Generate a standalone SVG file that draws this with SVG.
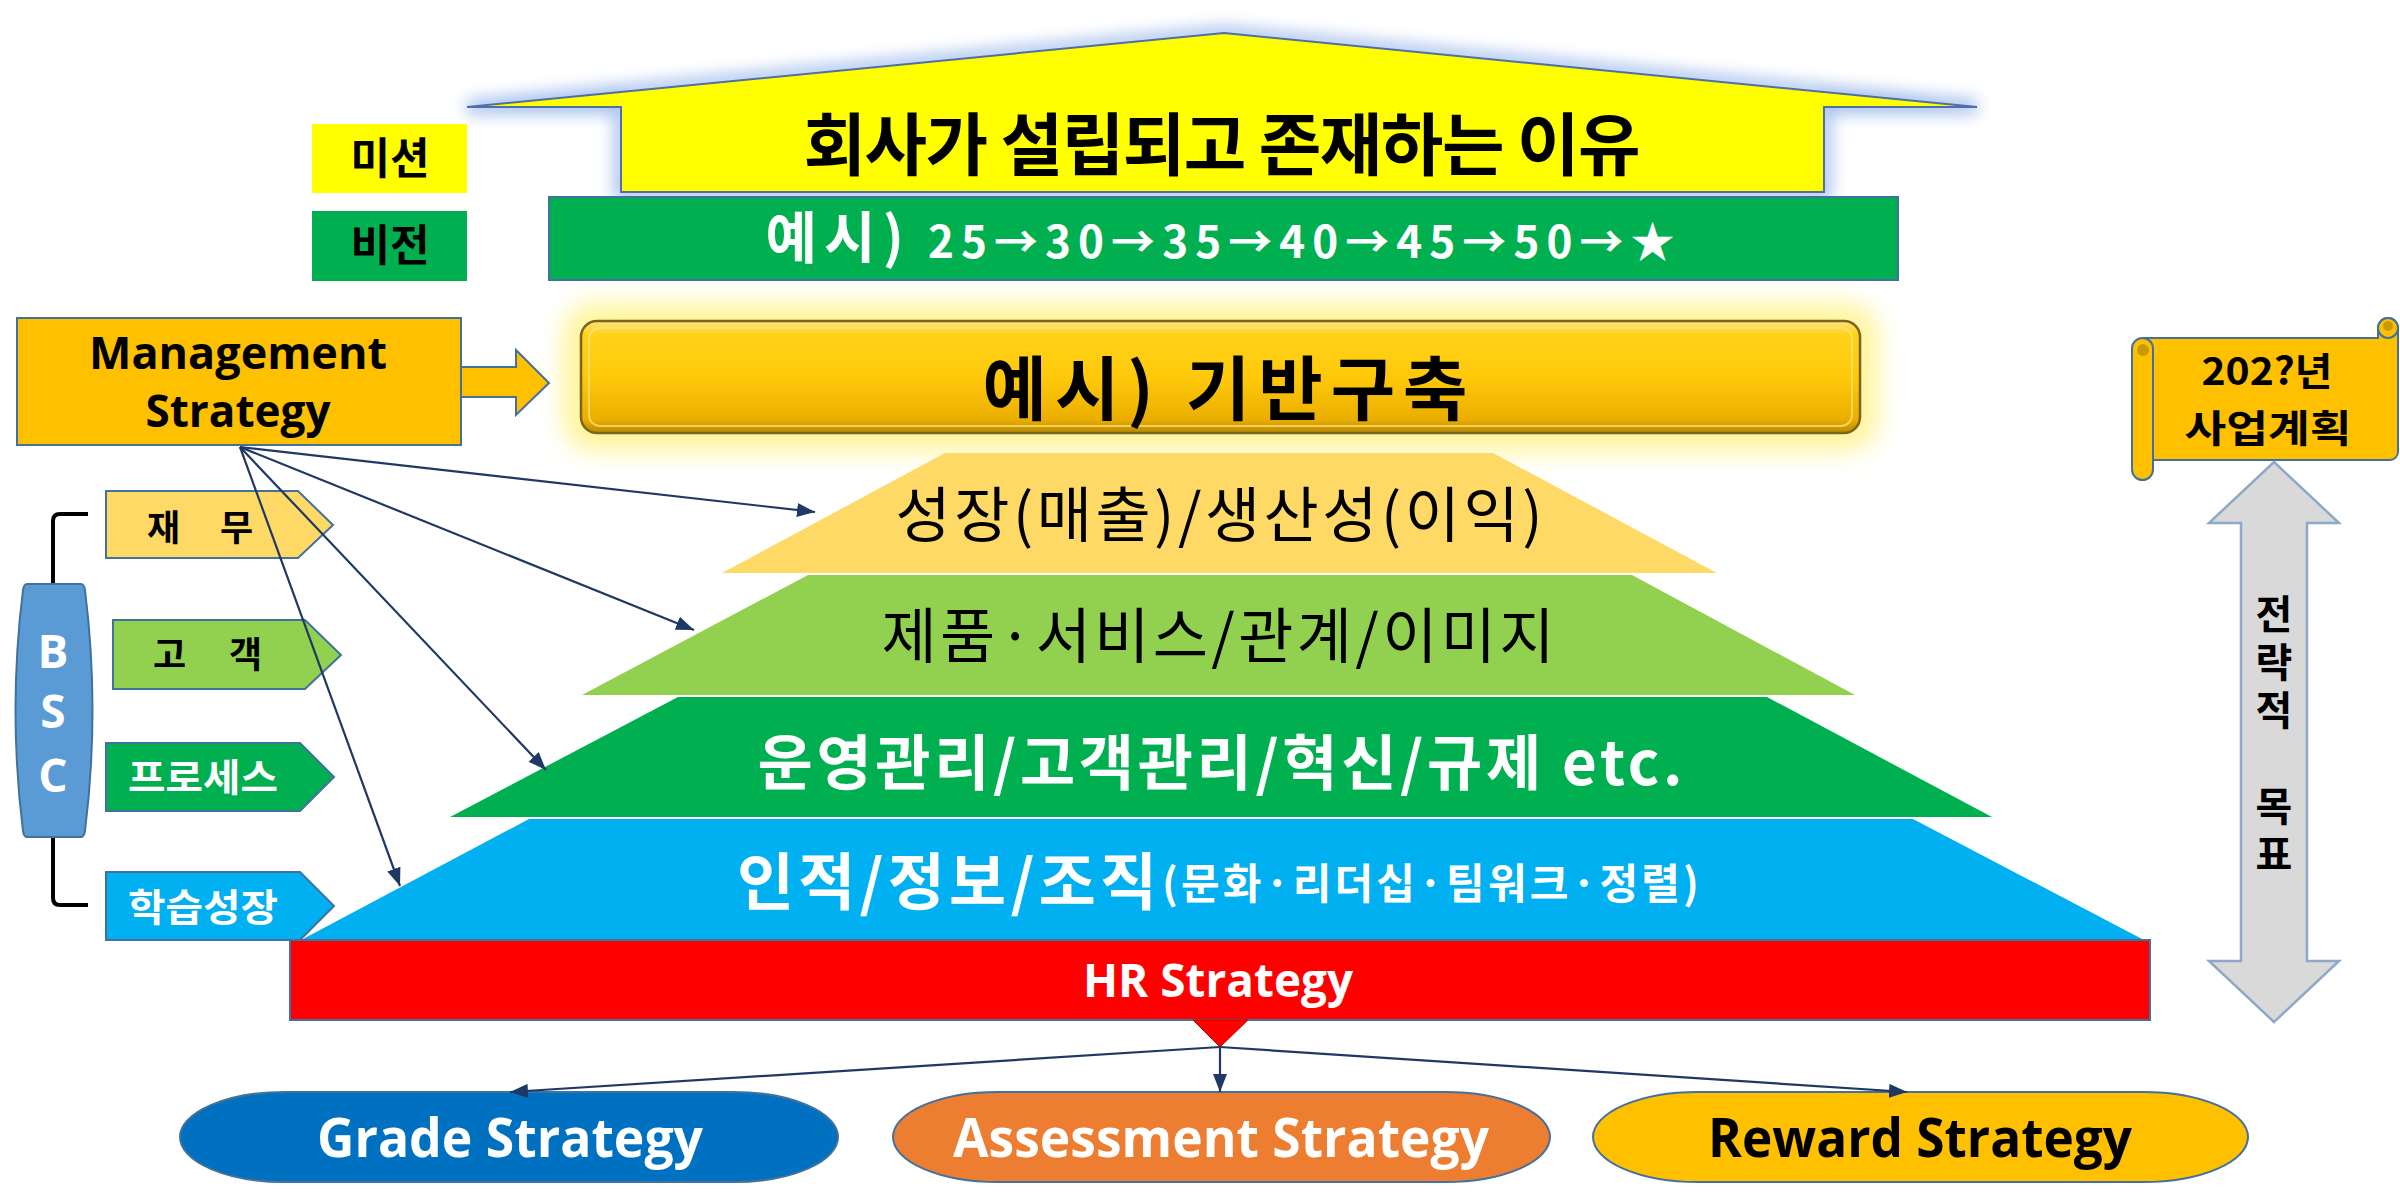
<svg xmlns="http://www.w3.org/2000/svg" width="2400" height="1200" viewBox="0 0 2400 1200">
  <style>
    .ko { font-family: "Noto Sans CJK KR", sans-serif; }
    .en { font-family: "Open Sans", "Noto Sans CJK KR", sans-serif; }
    .b { font-weight: 700; }
    .mid { text-anchor: middle; }
    .edge { stroke: #41719C; stroke-width: 2; }
    .conn { fill: none; stroke: #1F3864; stroke-width: 2.2; }
    .wht { fill: #FFFFFF; }
    .blk { fill: #000000; }
    .vert { writing-mode: vertical-rl; text-orientation: upright; letter-spacing: 8px; }
  </style>
  <defs>
    <marker id="arrowhead" viewBox="0 0 18 14" refX="18" refY="7" markerWidth="18" markerHeight="14" markerUnits="userSpaceOnUse" orient="auto">
      <path d="M0,0 L18,7 L0,14 Z" fill="#1F3864"/>
    </marker>
    <filter id="soft" x="-20%" y="-60%" width="140%" height="220%">
      <feGaussianBlur stdDeviation="8"/>
    </filter>
    <filter id="softWide" x="-20%" y="-80%" width="140%" height="260%">
      <feGaussianBlur stdDeviation="12"/>
    </filter>
    <linearGradient id="goldBar" x1="0" y1="0" x2="0" y2="1">
      <stop offset="0" stop-color="#FFE27A"/>
      <stop offset="0.12" stop-color="#FFD21A"/>
      <stop offset="0.5" stop-color="#FFC90A"/>
      <stop offset="0.88" stop-color="#EBAE00"/>
      <stop offset="1" stop-color="#B98A00"/>
    </linearGradient>
  </defs>

  <rect width="2400" height="1200" fill="#FFFFFF"/>

  <!-- Mission: house shape -->
  <g id="mission">
    <polygon points="467,107 1224,33 1977,107 1824,107 1824,192 621,192 621,107" fill="none" stroke="#5B8BE0" stroke-width="14" opacity="0.55" filter="url(#soft)"/>
    <polygon points="467,107 1224,33 1977,107 1824,107 1824,192 621,192 621,107" fill="#FFFF00" stroke="#4F6FA8" stroke-width="2"/>
    <text class="ko b mid blk" x="1222" y="170" font-size="68" textLength="837" lengthAdjust="spacing">회사가 설립되고 존재하는 이유</text>
  </g>

  <g id="label-mission">
    <rect x="312" y="124" width="155" height="69" fill="#FFFF00"/>
    <text class="ko b mid blk" x="390" y="174" font-size="43">미션</text>
  </g>

  <g id="label-vision">
    <rect x="312" y="211" width="155" height="70" fill="#00B050"/>
    <text class="ko b mid blk" x="390" y="261" font-size="43">비전</text>
  </g>

  <!-- Vision bar -->
  <g id="vision">
    <rect x="549" y="197" width="1349" height="83" fill="#00B050" class="edge"/>
    <text class="ko b mid wht" x="1220" y="258" font-size="44" textLength="909" lengthAdjust="spacing"><tspan font-size="56">예시)</tspan> 25→30→35→40→45→50→★</text>
  </g>

  <!-- Foundation bar -->
  <g id="foundation">
    <rect x="571" y="311" width="1299" height="132" rx="24" fill="#FFF27A" stroke="#FFF176" stroke-width="16" opacity="0.75" filter="url(#softWide)"/>
    <rect x="581" y="321" width="1279" height="112" rx="16" fill="url(#goldBar)" stroke="#7A6420" stroke-width="2.5"/>
    <rect x="589" y="328" width="1263" height="98" rx="11" fill="none" stroke="#FFE680" stroke-width="2" opacity="0.7"/>
    <text class="ko b mid blk" x="1225" y="415" font-size="70" textLength="485" lengthAdjust="spacing">예시) 기반구축</text>
  </g>

  <!-- Management Strategy box with block arrow -->
  <g id="management">
    <rect x="17" y="318" width="444" height="127" fill="#FFC000" class="edge"/>
    <text class="en b mid blk" x="238" y="369" font-size="44" textLength="298" lengthAdjust="spacingAndGlyphs">Management</text>
    <text class="en b mid blk" x="238" y="427" font-size="44" textLength="185" lengthAdjust="spacingAndGlyphs">Strategy</text>
    <polygon points="461,367 516,367 516,350 549,383 516,415 516,397 461,397" fill="#FFC000" class="edge"/>
  </g>

  <!-- Strategy pyramid -->
  <g id="layer-growth">
    <polygon points="945,453 1493,453 1717,573 722,573" fill="#FFD966"/>
    <text class="ko mid blk" x="1219" y="537" font-size="60" textLength="647" lengthAdjust="spacing">성장(매출)/생산성(이익)</text>
  </g>
  <g id="layer-customer">
    <polygon points="808,575 1632,575 1855,695 582,695" fill="#92D050"/>
    <text class="ko mid blk" x="1218" y="658" font-size="60" textLength="673" lengthAdjust="spacing">제품·서비스/관계/이미지</text>
  </g>
  <g id="layer-process">
    <polygon points="678,697 1767,697 1992,817 450,817" fill="#00B050"/>
    <text class="ko b mid wht" x="1220" y="785" font-size="60" textLength="925" lengthAdjust="spacing">운영관리/고객관리/혁신/규제 etc.</text>
  </g>
  <g id="layer-learning">
    <polygon points="529,819 1913,819 2142,939 303,939" fill="#00B0F0"/>
    <text class="ko b wht" x="737" y="905" font-size="62" textLength="420" lengthAdjust="spacing">인적/정보/조직</text>
    <text class="ko b wht" x="1162" y="899" font-size="42" textLength="537" lengthAdjust="spacing">(문화·리더십·팀워크·정렬)</text>
  </g>

  <!-- HR Strategy bar -->
  <g id="hr-strategy">
    <rect x="290" y="940" width="1860" height="80" fill="#FF0000" class="edge"/>
    <polygon points="1193,1020 1248,1020 1220,1047" fill="#FF0000" stroke="#C00000" stroke-width="1"/>
    <text class="en b mid wht" x="1218" y="997" font-size="46" textLength="270" lengthAdjust="spacingAndGlyphs">HR Strategy</text>
  </g>

  <!-- BSC perspectives -->
  <g id="bsc">
    <path d="M88,514 H60 Q53,514 53,521 V590 M53,832 V898 Q53,905 60,905 H88" fill="none" stroke="#000000" stroke-width="4"/>
    <path d="M27,584 H81 Q84,584 85,590 Q100,710 85,831 Q84,837 81,837 H27 Q24,837 23,831 Q8,710 23,590 Q24,584 27,584 Z" fill="#5B9BD5" stroke="#41719C" stroke-width="2"/>
    <text class="en b mid wht" x="53" y="668" font-size="46">B</text>
    <text class="en b mid wht" x="53" y="728" font-size="46">S</text>
    <text class="en b mid wht" x="53" y="792" font-size="46">C</text>
  </g>
  <g id="bsc-finance">
    <polygon points="106,491 298,491 333,525 298,558 106,558" fill="#FFD966" class="edge"/>
    <text class="ko b blk" x="147" y="541" font-size="36" textLength="106" lengthAdjust="spacing">재 무</text>
  </g>
  <g id="bsc-customer">
    <polygon points="113,620 305,620 341,655 305,689 113,689" fill="#92D050" class="edge"/>
    <text class="ko b blk" x="153" y="668" font-size="36" textLength="109" lengthAdjust="spacing">고 객</text>
  </g>
  <g id="bsc-process">
    <polygon points="106,743 300,743 334,777 300,811 106,811" fill="#00B050" class="edge"/>
    <text class="ko b wht" x="128" y="791" font-size="38" textLength="150" lengthAdjust="spacingAndGlyphs">프로세스</text>
  </g>
  <g id="bsc-learning">
    <polygon points="106,872 300,872 334,906 300,940 106,940" fill="#00B0F0" class="edge"/>
    <text class="ko b wht" x="128" y="921" font-size="38" textLength="150" lengthAdjust="spacingAndGlyphs">학습성장</text>
  </g>

  <!-- Annual business plan scroll -->
  <g id="business-plan">
    <path d="M2143,338 H2378 V328 A10,10 0 0 1 2398,328 V452 A8,8 0 0 1 2390,460 H2153 Z" fill="#FFC000" class="edge"/>
    <circle cx="2388" cy="328" r="10" fill="#FFC000" class="edge"/>
    <circle cx="2388" cy="326" r="5" fill="#C99A00"/>
    <rect x="2132" y="338" width="21" height="142" rx="10.5" fill="#FFC000" class="edge"/>
    <circle cx="2143" cy="350" r="6" fill="#C99A00"/>
    <text class="ko b mid blk" x="2267" y="385" font-size="38" textLength="131" lengthAdjust="spacingAndGlyphs">202?년</text>
    <text class="ko b mid blk" x="2268" y="442" font-size="38" textLength="167" lengthAdjust="spacingAndGlyphs">사업계획</text>
  </g>

  <!-- Strategic goal double arrow -->
  <g id="strategic-goal">
    <polygon points="2274,462 2339,523 2307,523 2307,961 2339,961 2274,1022 2209,961 2241,961 2241,523 2209,523" fill="#D9D9D9" stroke="#8EA9C8" stroke-width="2.5"/>
    <text class="ko b blk vert" x="2274" y="594" font-size="40">전략적　목표</text>
  </g>

  <!-- HR sub-strategies -->
  <g id="grade-strategy">
    <rect x="180" y="1092" width="658" height="90" rx="105" ry="45" fill="#0070C0" class="edge"/>
    <text class="en b mid wht" x="510" y="1157" font-size="53" textLength="386" lengthAdjust="spacingAndGlyphs">Grade Strategy</text>
  </g>
  <g id="assessment-strategy">
    <rect x="893" y="1092" width="657" height="90" rx="105" ry="45" fill="#ED7D31" class="edge"/>
    <text class="en b mid wht" x="1221" y="1157" font-size="53" textLength="536" lengthAdjust="spacingAndGlyphs">Assessment Strategy</text>
  </g>
  <g id="reward-strategy">
    <rect x="1593" y="1092" width="655" height="90" rx="105" ry="45" fill="#FFC000" class="edge"/>
    <text class="en b mid blk" x="1920" y="1157" font-size="53" textLength="424" lengthAdjust="spacingAndGlyphs">Reward Strategy</text>
  </g>

  <!-- Connectors -->
  <g id="connectors">
    <line class="conn" x1="240" y1="447" x2="815" y2="512" marker-end="url(#arrowhead)"/>
    <line class="conn" x1="240" y1="447" x2="694" y2="630" marker-end="url(#arrowhead)"/>
    <line class="conn" x1="240" y1="447" x2="546" y2="770" marker-end="url(#arrowhead)"/>
    <line class="conn" x1="240" y1="447" x2="400" y2="886" marker-end="url(#arrowhead)"/>
    <line class="conn" x1="1220" y1="1047" x2="510" y2="1092" marker-end="url(#arrowhead)"/>
    <line class="conn" x1="1220" y1="1047" x2="1220" y2="1092" marker-end="url(#arrowhead)"/>
    <line class="conn" x1="1220" y1="1047" x2="1907" y2="1092" marker-end="url(#arrowhead)"/>
  </g>
</svg>
